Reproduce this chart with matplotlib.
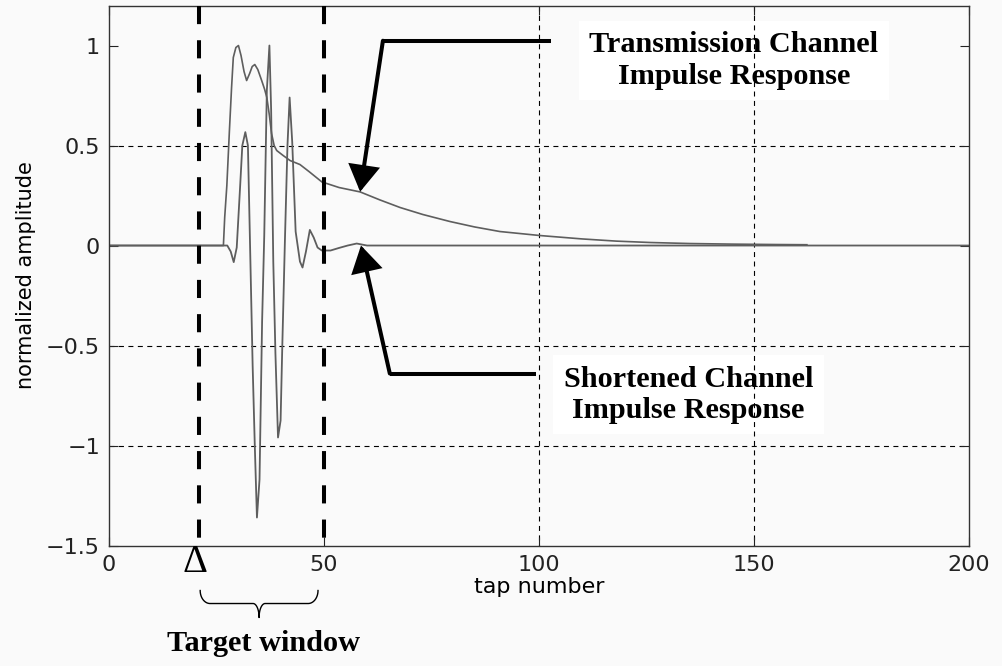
"""Channel shortening: transmission vs. shortened channel impulse response."""

import numpy as np
import matplotlib.pyplot as plt

# transmission channel impulse response (tap, amplitude)
trans_taps = [0, 26.6, 26.9, 27.4, 28.0, 28.5, 28.9, 29.5, 30.1, 30.7, 31.4, 32.0,
              32.7, 33.3, 33.9, 34.6, 35.5, 36.2, 36.7, 37.3, 37.8, 38.4, 39.0,
              40.5, 42.1, 44.4, 46.5, 49.5, 53.5, 58.4, 63.0, 67.7, 73.0, 79.3,
              85.0, 90.9, 100.2, 110.0, 118.0, 126.0, 135.0, 145.0, 155.0, 162.3]
trans_vals = [0, 0, 0.14, 0.30, 0.575, 0.79, 0.94, 0.99, 1.0, 0.95, 0.87, 0.825,
              0.86, 0.895, 0.905, 0.88, 0.825, 0.78, 0.74, 0.65, 0.56, 0.50, 0.475,
              0.45, 0.425, 0.405, 0.37, 0.318, 0.29, 0.268, 0.228, 0.19, 0.155, 0.12,
              0.093, 0.07, 0.05, 0.033, 0.022, 0.015, 0.01, 0.007, 0.005, 0.004]

# shortened channel impulse response (tap, amplitude)
short_taps = [0, 27.5, 28.3, 29.0, 29.7, 30.5, 31.0, 31.7, 32.3, 32.9, 33.4, 33.9,
              34.4, 35.0, 35.6, 36.1, 36.7, 37.3, 37.7, 38.2, 38.7, 39.3, 39.9,
              40.3, 40.9, 41.5, 42.0, 42.6, 43.4, 44.4, 45.0, 45.8, 46.7, 47.6,
              48.5, 49.5, 51.5, 53.5, 55.5, 57.6, 60.0, 200]
short_vals = [0, 0, -0.03, -0.083, -0.01, 0.30, 0.50, 0.567, 0.50, -0.10, -0.60, -1.0,
              -1.36, -1.17, -0.38, 0.05, 0.775, 1.0, 0.68, -0.08, -0.54, -0.96, -0.875,
              -0.50, 0.02, 0.50, 0.74, 0.52, 0.07, -0.08, -0.11, -0.03, 0.078, 0.04,
              -0.01, -0.025, -0.025, -0.012, 0.0, 0.01, 0.0, 0]

win_start, win_end = 21, 50      # target window edges
delta_tap = 20
grid_x = [100, 150]
grid_y = [-1, -0.5, 0.5]
x_ticks = [0, 50, 100, 150, 200]
y_ticks = [-1.5, -1, -0.5, 0, 0.5, 1]

# arrow paths: (label end, elbow, tip)
trans_arrow = [(102.7, 1.024), (63.7, 1.024), (58.4, 0.269)]
short_arrow = [(99.4, -0.64), (65.3, -0.64), (58.6, 0.0)]

BG = "#fafafa"
SERIF = ["Liberation Serif", "DejaVu Serif"]


def brace(ax, x0, x1, ytop, ymid, ybot, r1=2.3, r2=1.4):
    """Horizontal curly brace below the axis, opening upward."""
    t = np.linspace(0, np.pi / 2, 25)
    xc = 0.5 * (x0 + x1)
    hx = x0 + r1 * (1 - np.cos(t))
    hy = ymid + (ytop - ymid) * (1 - np.sin(t))
    cx = xc - r2 + r2 * np.sin(t)
    cy = ymid - (ymid - ybot) * (1 - np.cos(t))
    xs = np.concatenate([hx, cx])
    ys = np.concatenate([hy, cy])
    xs = np.concatenate([xs, (2 * xc - xs)[::-1]])
    ys = np.concatenate([ys, ys[::-1]])
    ax.plot(xs, ys, color="black", lw=1.0, clip_on=False)


fig = plt.figure(figsize=(10.03, 6.66), dpi=100, facecolor=BG)
ax = fig.add_axes([0.1087, 0.1809, 0.8574, 0.8108], facecolor=BG)

for gx in grid_x:
    ax.plot([gx, gx], [1.2, -1.5], color="black", lw=0.8, ls=(0, (4.5, 4.0)), zorder=1)
for gy in grid_y:
    ax.plot([0, 200], [gy, gy], color="black", lw=0.8, ls=(0, (4.5, 4.0)), zorder=1)

ax.plot(short_taps, short_vals, color="#5e5e5e", lw=1.3, zorder=2)
ax.plot(trans_taps, trans_vals, color="#5e5e5e", lw=1.2, zorder=2)

# target window edges
for wx in (win_start, win_end):
    ax.plot([wx, wx], [1.2, -1.5], color="black", lw=2.9, ls=(0, (4.5, 4.0)), zorder=3)

# callout arrows
for path in (trans_arrow, short_arrow):
    (xa, ya), (xb, yb), (xt, yt) = path
    ax.plot([xa, xb], [ya, yb], color="black", lw=2.9, solid_capstyle="butt", zorder=4)
    ax.annotate("", xy=(xt, yt), xytext=(xb, yb),
                arrowprops=dict(arrowstyle="-|>,head_length=0.75,head_width=0.45",
                                mutation_scale=20, lw=2.9, color="black",
                                shrinkA=0, shrinkB=0, joinstyle="miter"),
                zorder=4)

box = dict(boxstyle="square,pad=0.35", facecolor="white", edgecolor="none")
ax.text(145.3, 0.925, "Transmission Channel\nImpulse Response", ha="center", va="center",
        fontsize=21.8, fontweight="bold", family=SERIF, linespacing=1.2, bbox=box, zorder=0.5)
ax.text(134.7, -0.746, "Shortened Channel\nImpulse Response", ha="center", va="center",
        fontsize=21.8, fontweight="bold", family=SERIF, linespacing=1.2, bbox=box, zorder=0.5)

# delta marker and target window brace under the axis
ax.text(delta_tap, -1.583, "Δ", ha="center", va="center", fontsize=28, family=SERIF,
        clip_on=False)
brace(ax, 21.2, 48.6, -1.725, -1.79, -1.86)
ax.text(36.0, -1.99, "Target window", ha="center", va="center", fontsize=21.8,
        fontweight="bold", family=SERIF, clip_on=False)

ax.set_xlim(0, 200)
ax.set_ylim(-1.5, 1.2)
ax.set_xticks(x_ticks)
ax.set_yticks(y_ticks)
ax.set_yticklabels([f"{v:g}".replace("-", "\u2212") for v in y_ticks])
ax.tick_params(direction="in", length=6.5, width=0.8, top=True, right=True,
               labelsize=16, colors="#222222")
ax.tick_params(axis="x", pad=7)
ax.tick_params(axis="y", pad=6.5)
for s in ax.spines.values():
    s.set_color("#333333")
    s.set_linewidth(1.0)

ax.set_xlabel("tap number", fontsize=16)
ax.set_ylabel("normalized amplitude", fontsize=15)
ax.xaxis.set_label_coords(0.5, -0.058)
ax.yaxis.set_label_coords(-0.085, 0.5)

fig.savefig("out.png", dpi=100, facecolor=BG)
